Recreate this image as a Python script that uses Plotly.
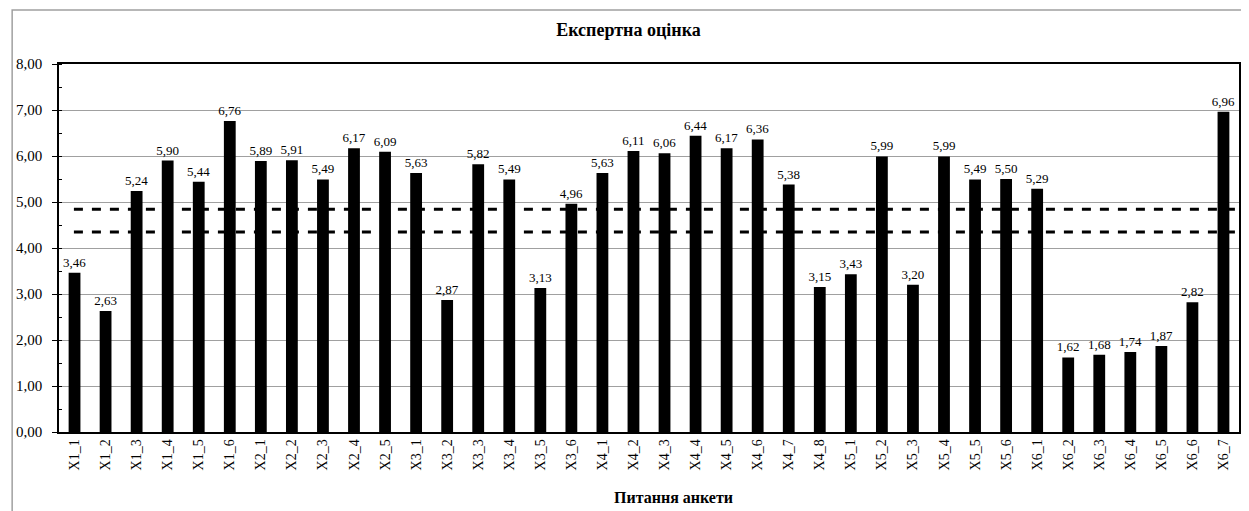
import plotly.graph_objects as go

categories = [
    "X1_1", "X1_2", "X1_3", "X1_4", "X1_5", "X1_6",
    "X2_1", "X2_2", "X2_3", "X2_4", "X2_5",
    "X3_1", "X3_2", "X3_3", "X3_4", "X3_5", "X3_6",
    "X4_1", "X4_2", "X4_3", "X4_4", "X4_5", "X4_6", "X4_7", "X4_8",
    "X5_1", "X5_2", "X5_3", "X5_4", "X5_5", "X5_6",
    "X6_1", "X6_2", "X6_3", "X6_4", "X6_5", "X6_6", "X6_7",
]
values = [
    3.46, 2.63, 5.24, 5.90, 5.44, 6.76,
    5.89, 5.91, 5.49, 6.17, 6.09,
    5.63, 2.87, 5.82, 5.49, 3.13, 4.96,
    5.63, 6.11, 6.06, 6.44, 6.17, 6.36, 5.38, 3.15,
    3.43, 5.99, 3.20, 5.99, 5.49, 5.50,
    5.29, 1.62, 1.68, 1.74, 1.87, 2.82, 6.96,
]
threshold_upper = 4.84
threshold_lower = 4.35
y_ticks = [0, 1, 2, 3, 4, 5, 6, 7, 8]

FONT = "Liberation Serif, Times New Roman, serif"

fig = go.Figure()
fig.add_trace(go.Bar(
    x=categories, y=values,
    marker=dict(color="black", line=dict(width=0)),
    text=values, texttemplate="%{y:.2f}", textposition="outside",
    constraintext="none",
    textfont=dict(family=FONT, size=13, color="black"),
    cliponaxis=False, showlegend=False,
))

for thr in (threshold_upper, threshold_lower):
    fig.add_shape(type="line", xref="x", yref="y",
                  x0=-0.02, x1=len(categories) - 0.6, y0=thr, y1=thr,
                  line=dict(color="black", width=3, dash="dash"))

# outer chart border
fig.add_shape(type="rect", xref="paper", yref="paper",
              x0=-0.0397, x1=1.2, y0=-0.5, y1=1.1467,
              line=dict(color="#A0A0A0", width=1.5), layer="below")

# x-axis title
fig.add_annotation(text="<b>Питання анкети</b>", xref="paper", yref="paper",
                   x=0.5207, y=-0.1793, xanchor="center", yanchor="middle",
                   showarrow=False, font=dict(family=FONT, size=16, color="black"))

fig.update_layout(
    width=1241, height=503,
    margin=dict(l=48, r=8, t=56, b=79),
    paper_bgcolor="white", plot_bgcolor="white",
    separators=", ",
    bargap=0.62,
    font=dict(family=FONT, color="black"),
    title=dict(text="<b>Експертна оцінка</b>", x=0.5, xanchor="center",
               y=1 - 22 / 503, yanchor="middle", yref="container",
               font=dict(family=FONT, size=18, color="black")),
    xaxis=dict(
        tickangle=-90, tickfont=dict(family=FONT, size=14),
        showline=True, linecolor="black", linewidth=1.5, mirror=True,
        showgrid=False, ticks="",
        range=[-0.5, len(categories) - 0.5],
    ),
    yaxis=dict(
        range=[0, 8], tickvals=y_ticks, tickformat=".2f",
        tickfont=dict(family=FONT, size=15),
        ticklabelstandoff=7,
        showline=True, linecolor="black", linewidth=1.5, mirror=True,
        showgrid=True, gridcolor="#A0A0A0", gridwidth=1,
        ticks="outside", ticklen=5, tickcolor="black",
        minor=dict(dtick=0.5, ticks="inside", ticklen=3, tickcolor="black", showgrid=False),
        zeroline=False,
    ),
)

fig.write_html("out.html")
